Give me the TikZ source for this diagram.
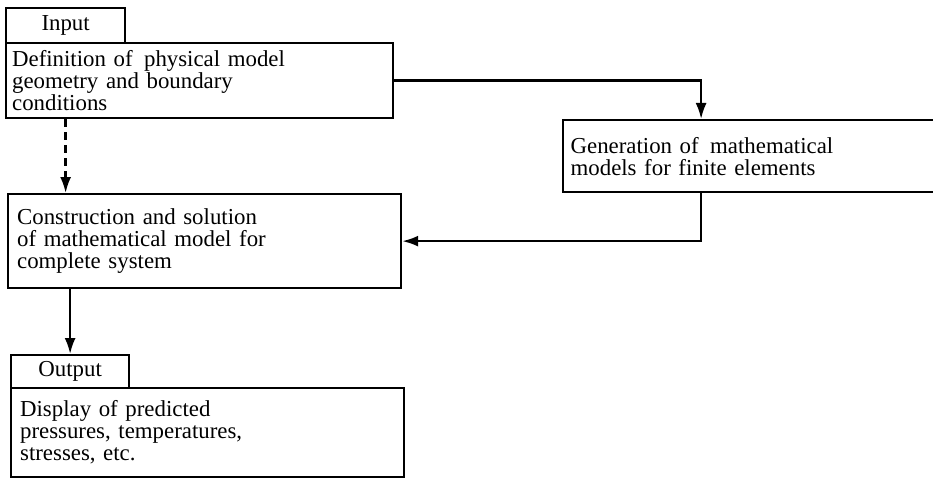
\documentclass[tikz,border=0pt]{standalone}
\usepackage{fontspec}
\setmainfont{Liberation Serif}
\usetikzlibrary{arrows.meta}

\tikzset{
  stage/.style={draw, line width=1.3pt, anchor=north west, align=left,
    inner xsep=0.08cm, font=\fontsize{13}{12.5}\selectfont},
  tab/.style={draw, line width=1.3pt, anchor=north west, inner sep=0pt,
    font=\fontsize{13}{12.5}\selectfont},
  flow/.style={line width=1.3pt, -{Latex[length=3.2mm,width=2.2mm]}}
}

\begin{document}
\begin{tikzpicture}[x=0.02cm, y=-0.02cm]
        \useasboundingbox (0,0) rectangle (933,479);

        % input block
        \node[tab, minimum width=2.38cm, minimum height=0.7cm] (in) at (5,7) {Input};
        \node[stage, minimum width=7.74cm, minimum height=1.5cm, text width=7.5cm, inner xsep=0.04cm] (def) at (5,42)
            {Definition of\, physical model\\geometry and boundary\\conditions};

        % finite elements
        \node[stage, minimum width=7.6cm, minimum height=1.44cm, text width=7.3cm] (gen) at (562,119)
            {Generation of\, mathematical\\models for finite elements};

        % system model
        \node[stage, minimum width=7.86cm, minimum height=1.88cm, text width=7.5cm, inner xsep=0.18cm] (cons) at (7,193)
            {Construction and solution\\of mathematical model for\\complete system};

        % output block
        \node[tab, minimum width=2.36cm, minimum height=0.66cm] (out) at (10,354) {Output};
        \node[stage, minimum width=7.86cm, minimum height=1.78cm, text width=7.5cm, inner xsep=0.18cm] (disp) at (10,387)
            {Display of predicted\\pressures, temperatures,\\stresses, etc.};

        \draw[flow] (def.east) -| ([xshift=-1.04cm]gen.north);
        \draw[flow] ([xshift=-1.04cm]gen.south) |- (cons.east);
        \draw[flow, dash pattern=on 0.16cm off 0.1cm] (in.south |- def.south) -- (in.south |- cons.north);
        \draw[flow] (out.north |- cons.south) -- (out.north);
\end{tikzpicture}
\end{document}
